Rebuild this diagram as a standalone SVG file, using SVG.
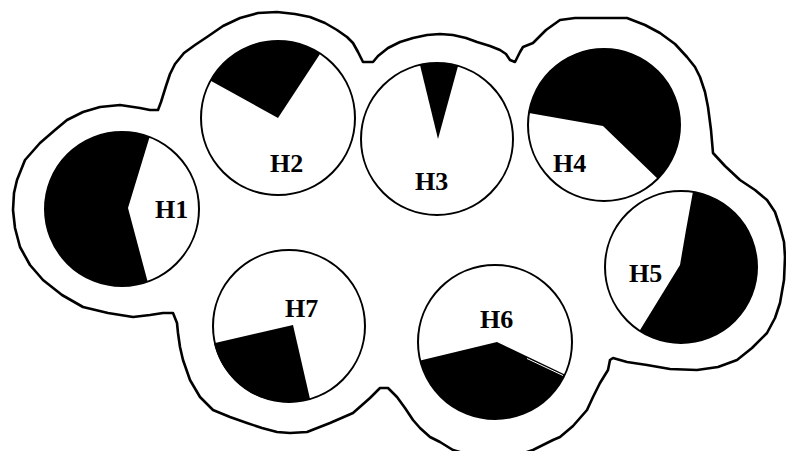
<svg xmlns="http://www.w3.org/2000/svg" width="786" height="451" viewBox="0 0 786 451">
<style>
.ring{fill:#fff;stroke:#000;stroke-width:2}
.pie{fill:#000}
.lbl{font-family:"Liberation Serif","Times New Roman",serif;font-weight:bold;font-size:26px;fill:#000}
.blob{fill:#fff;stroke:#000;stroke-width:2.6;stroke-linejoin:round}
</style>
<rect width="786" height="451" fill="#fff"/>
<g id="outline">
<path class="blob" d="M158,110 L161,102 L166,86 L170,74 L175,64 L184,53 L195,45 L207,37 L223,26 L240,18 L258,13 L277,12 L295,14 L310,17 L325,23 L337,30 L347,37 L353,43 L358,52 L363,62 L373,62 L378,56 L388,48 L400,42 L413,38 L427,35 L440,34 L453,35 L466,38 L477,42 L490,46 L500,50 L506,54 L510,60 L515,62 L520,52 L523,47 L533,43 L546,30 L560,20 L575,18 L590,18 L608,18 L627,18 L645,25 L660,33 L675,44 L687,57 L695,67 L700,77 L705,92 L708,107 L711,130 L713,153 L725,166 L740,180 L755,190 L767,200 L775,212 L780,227 L784,242 L785,257 L784,280 L780,303 L775,318 L767,333 L752,348 L737,360 L718,367 L697,370 L670,369 L647,365 L627,362 L613,358 L610,360 L608,370 L600,383 L593,397 L587,410 L573,426 L560,437 L553,440 L533,450 L515,456 L495,458 L473,456 L453,450 L440,442 L430,437 L420,428 L413,420 L405,408 L397,397 L388,388 L380,388 L370,398 L353,413 L330,423 L307,432 L290,433 L277,432 L262,428 L247,423 L230,417 L213,410 L200,397 L190,380 L183,360 L180,347 L178,333 L177,323 L173,313 L163,313 L150,315 L133,317 L108,313 L83,307 L62,295 L43,280 L30,265 L20,247 L15,228 L13,210 L14,193 L17,180 L25,160 L40,143 L55,130 L67,120 L83,112 L100,107 L120,105 L140,108 L150,110 Z"/>
</g>
<g id="connectors"/>
<g id="H1">
<circle class="ring" cx="122" cy="209" r="77"/>
<path class="pie" d="M128,208 L149.6,137.1 A77,77 0 1 0 147.6,281.6 Z"/>
<text class="lbl" x="155" y="218">H1</text>
</g>
<g id="H2">
<circle class="ring" cx="278" cy="118" r="77"/>
<path class="pie" d="M278,118 L210.7,80.7 A77,77 0 0 1 320.3,53.6 Z"/>
<text class="lbl" x="270" y="172">H2</text>
</g>
<g id="H3">
<circle class="ring" cx="437" cy="139" r="76"/>
<path class="pie" d="M438,139 L420,65 A76,76 0 0 1 458,66 Z"/>
<text class="lbl" x="415" y="190">H3</text>
</g>
<g id="H4">
<circle class="ring" cx="604" cy="125" r="76"/>
<path class="pie" d="M603,126 L528.9,113.1 A76,76 0 1 1 657.7,178.7 Z"/>
<text class="lbl" x="553" y="172">H4</text>
</g>
<g id="H5">
<circle class="ring" cx="681" cy="267" r="76"/>
<path class="pie" d="M680,265 L686,230 L692.9,191.9 A76,76 0 1 1 639.6,330.7 Z"/>
<text class="lbl" x="629" y="282">H5</text>
</g>
<g id="H6">
<circle class="ring" cx="495" cy="342" r="77"/>
<path class="pie" d="M497,342 L564.8,374.5 A77,77 0 0 1 420.3,360.6 Z"/>
<line x1="527" y1="358.5" x2="563" y2="375.5" stroke="#fff" stroke-width="1"/>
<text class="lbl" x="480" y="328">H6</text>
</g>
<g id="H7">
<circle class="ring" cx="289" cy="326" r="76"/>
<path class="pie" d="M293,325 L310,399 A76,76 0 0 1 214,343.3 Z"/>
<text class="lbl" x="285" y="317">H7</text>
</g>
</svg>
